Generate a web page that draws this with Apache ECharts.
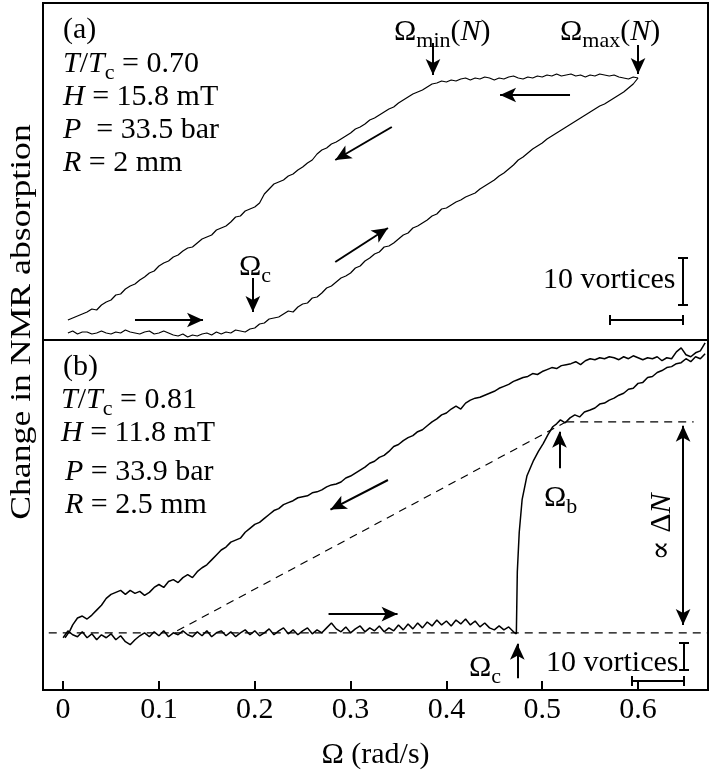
<!DOCTYPE html>
<html>
<head>
<meta charset="utf-8">
<script src="https://cdn.jsdelivr.net/npm/echarts@6.0.0/dist/echarts.min.js"></script>
<style>
  html, body { margin: 0; background: #fff; }
  #chart { width: 713px; height: 771px; }
</style>
</head>
<body>
<div id="chart"></div>
<script>
// x ticks (rad/s)
const omegaTicks = [0, 0.1, 0.2, 0.3, 0.4, 0.5, 0.6];

// panel (a): [omega, signal] ; signal in arbitrary units
const aSweepUp = [[0.005,7],[0.01,9],[0.015,6],[0.02,8],[0.025,8],[0.03,6],[0.035,7],[0.04,9],[0.045,7],[0.05,6],[0.055,8],[0.06,7],[0.065,10],[0.07,8],[0.075,7],[0.08,6],[0.085,8],[0.09,9],[0.095,6],[0.1,7],[0.105,9],[0.11,7],[0.115,5],[0.12,4],[0.125,6],[0.13,3],[0.135,5],[0.14,4],[0.145,6],[0.15,7],[0.155,5],[0.16,8],[0.165,6],[0.17,8],[0.175,7],[0.18,10],[0.185,9],[0.19,8],[0.195,11],[0.2,12],[0.205,16],[0.21,17],[0.215,21],[0.22,22],[0.225,23],[0.23,26],[0.235,29],[0.24,28],[0.245,33],[0.25,36],[0.255,37],[0.26,42],[0.265,43],[0.27,47],[0.275,52],[0.28,54],[0.285,58],[0.29,62],[0.295,64],[0.3,67],[0.305,72],[0.31,74],[0.315,79],[0.32,82],[0.325,86],[0.33,88],[0.335,93],[0.34,94],[0.345,97],[0.35,101],[0.355,105],[0.36,107],[0.365,112],[0.37,114],[0.375,117],[0.38,120],[0.385,124],[0.39,126],[0.395,131],[0.4,132],[0.405,135],[0.41,138],[0.415,140],[0.42,143],[0.425,145],[0.43,147],[0.435,151],[0.44,154],[0.445,157],[0.45,160],[0.455,164],[0.46,167],[0.465,171],[0.47,175],[0.475,180],[0.48,183],[0.485,187],[0.49,191],[0.495,194],[0.5,197],[0.505,201],[0.51,204],[0.515,207],[0.52,210],[0.525,213],[0.53,216],[0.535,219],[0.54,222],[0.545,225],[0.55,228],[0.555,231],[0.56,234],[0.565,236],[0.57,239],[0.575,242],[0.58,245],[0.585,248],[0.59,252],[0.595,256],[0.6,262]];
const aSweepDown = [[0.005,20],[0.01,22],[0.015,24],[0.02,26],[0.025,28],[0.03,31],[0.035,30],[0.04,35],[0.045,38],[0.05,40],[0.055,45],[0.06,46],[0.065,51],[0.07,54],[0.075,56],[0.08,60],[0.085,63],[0.09,67],[0.095,69],[0.1,74],[0.105,77],[0.11,79],[0.115,83],[0.12,85],[0.125,89],[0.13,92],[0.135,93],[0.14,97],[0.145,101],[0.15,103],[0.155,105],[0.16,110],[0.165,112],[0.17,114],[0.175,118],[0.18,123],[0.185,124],[0.19,129],[0.195,131],[0.2,133],[0.205,137],[0.21,146],[0.215,151],[0.22,156],[0.225,158],[0.23,160],[0.235,164],[0.24,166],[0.245,170],[0.25,173],[0.255,177],[0.26,180],[0.265,186],[0.27,190],[0.275,192],[0.28,196],[0.285,198],[0.29,201],[0.295,204],[0.3,207],[0.305,211],[0.31,213],[0.315,216],[0.32,220],[0.325,222],[0.33,225],[0.335,228],[0.34,231],[0.345,233],[0.35,237],[0.355,240],[0.36,243],[0.365,246],[0.37,248],[0.375,250],[0.38,253],[0.385,256],[0.39,257],[0.395,259],[0.4,258],[0.405,260],[0.41,259],[0.415,261],[0.42,262],[0.425,260],[0.43,262],[0.435,261],[0.44,263],[0.445,262],[0.45,260],[0.455,262],[0.46,261],[0.465,263],[0.47,264],[0.475,262],[0.48,261],[0.485,263],[0.49,262],[0.495,264],[0.5,263],[0.505,265],[0.51,264],[0.515,266],[0.52,264],[0.525,265],[0.53,266],[0.535,264],[0.54,265],[0.545,263],[0.55,265],[0.555,264],[0.56,266],[0.565,265],[0.57,264],[0.575,265],[0.58,263],[0.585,262],[0.59,261],[0.595,263],[0.6,262]];

// panel (b)
const bSweepUp = [[0,53],[0.005,60],[0.01,56],[0.015,54],[0.02,59],[0.025,53],[0.03,57],[0.035,51],[0.04,56],[0.045,53],[0.05,57],[0.055,51],[0.06,55],[0.065,49],[0.07,46],[0.075,51],[0.08,55],[0.085,58],[0.09,54],[0.095,59],[0.1,55],[0.105,60],[0.11,54],[0.115,58],[0.12,56],[0.125,60],[0.13,56],[0.135,54],[0.14,59],[0.145,55],[0.15,60],[0.155,54],[0.16,58],[0.165,60],[0.17,55],[0.175,59],[0.18,54],[0.185,58],[0.19,61],[0.195,56],[0.2,60],[0.205,55],[0.21,58],[0.215,62],[0.22,56],[0.225,60],[0.23,63],[0.235,57],[0.24,61],[0.245,56],[0.25,60],[0.255,63],[0.26,57],[0.265,61],[0.27,58],[0.275,63],[0.28,68],[0.285,62],[0.29,59],[0.295,64],[0.3,58],[0.305,62],[0.31,65],[0.315,59],[0.32,63],[0.325,60],[0.33,65],[0.335,59],[0.34,63],[0.345,60],[0.35,66],[0.355,61],[0.36,67],[0.365,62],[0.37,68],[0.375,63],[0.38,69],[0.385,65],[0.39,71],[0.395,66],[0.4,70],[0.405,65],[0.41,71],[0.415,67],[0.42,72],[0.425,66],[0.43,70],[0.435,64],[0.44,68],[0.445,63],[0.45,61],[0.455,65],[0.46,61],[0.465,64],[0.47,59],[0.473,57],[0.474,120],[0.476,160],[0.479,193],[0.484,217],[0.491,233],[0.496,242],[0.501,250],[0.506,259],[0.511,267],[0.515,270],[0.519,274],[0.524,271],[0.529,276],[0.534,279],[0.539,277],[0.544,282],[0.55,284],[0.555,286],[0.56,290],[0.565,291],[0.57,294],[0.575,296],[0.58,299],[0.585,301],[0.59,305],[0.595,306],[0.6,311],[0.605,312],[0.61,317],[0.615,318],[0.62,322],[0.625,324],[0.63,327],[0.635,328],[0.64,331],[0.645,332],[0.65,336],[0.655,333],[0.66,338],[0.665,336],[0.67,341]];
const bSweepDown = [[0.002,53],[0.007,60],[0.01,66],[0.015,73],[0.02,75],[0.025,72],[0.03,76],[0.035,81],[0.04,86],[0.045,93],[0.05,97],[0.055,99],[0.06,101],[0.065,97],[0.07,101],[0.075,98],[0.08,100],[0.085,96],[0.09,99],[0.095,104],[0.1,107],[0.105,104],[0.11,110],[0.115,112],[0.12,109],[0.125,114],[0.13,117],[0.135,114],[0.14,120],[0.145,124],[0.15,127],[0.155,132],[0.16,137],[0.165,142],[0.17,145],[0.175,150],[0.18,152],[0.185,154],[0.19,160],[0.195,164],[0.2,168],[0.205,170],[0.21,174],[0.215,178],[0.22,182],[0.225,184],[0.23,188],[0.235,190],[0.24,192],[0.245,195],[0.25,196],[0.255,197],[0.26,200],[0.265,201],[0.27,203],[0.275,206],[0.28,208],[0.285,209],[0.29,211],[0.295,215],[0.3,217],[0.305,220],[0.31,223],[0.315,226],[0.32,230],[0.325,232],[0.33,236],[0.335,238],[0.34,242],[0.345,247],[0.35,249],[0.355,253],[0.36,256],[0.365,258],[0.37,262],[0.375,264],[0.38,268],[0.385,272],[0.39,275],[0.395,279],[0.4,281],[0.405,285],[0.41,288],[0.415,285],[0.42,291],[0.425,294],[0.43,296],[0.435,297],[0.44,299],[0.445,301],[0.45,303],[0.455,306],[0.46,308],[0.465,310],[0.47,313],[0.475,315],[0.48,317],[0.485,318],[0.49,321],[0.495,320],[0.5,323],[0.505,325],[0.51,327],[0.515,326],[0.52,329],[0.525,330],[0.53,331],[0.535,333],[0.54,330],[0.545,334],[0.55,336],[0.555,335],[0.56,337],[0.565,336],[0.57,338],[0.575,337],[0.58,335],[0.585,338],[0.59,336],[0.595,339],[0.6,337],[0.605,335],[0.61,337],[0.615,336],[0.62,338],[0.625,334],[0.63,337],[0.635,336],[0.64,343],[0.645,347],[0.65,340],[0.655,338],[0.66,342],[0.665,344],[0.67,352]];

// guide lines in panel (b)
const bBaseline = [[-0.015,58],[0.672,58]];
const bSlope = [[0.119,60],[0.525,272]];
const bPlateau = [[0.525,272],[0.658,272]];

const SERIF = '"Liberation Serif", "DejaVu Serif", serif';
const FS = 30;

const chart = echarts.init(document.getElementById('chart'), null, { renderer: 'canvas' });

const rich = {
  i: { fontFamily: SERIF, fontSize: FS, fontStyle: 'italic', fill: '#000', lineHeight: 40 },
  s: { fontFamily: SERIF, fontSize: 22, fill: '#000', lineHeight: 22, verticalAlign: 'bottom' }
};

function txt(x, y, text, opts) {
  opts = opts || {};
  return {
    type: 'text', x: x, y: y, rotation: opts.rotation || 0, scaleX: opts.scaleX || 1, z: 10,
    style: {
      text: text, fill: '#000', fontFamily: SERIF, fontSize: opts.fontSize || FS,
      lineHeight: 40, rich: rich,
      textAlign: opts.align || 'left', textVerticalAlign: 'middle'
    }
  };
}
function seg(x1, y1, x2, y2) {
  return { type: 'line', z: 10, shape: { x1: x1, y1: y1, x2: x2, y2: y2 }, style: { stroke: '#000', lineWidth: 2 } };
}

function arrows(list) {
  return {
    silent: true, animation: false,
    symbolSize: [11, 16],
    label: { show: false },
    lineStyle: { color: '#000', width: 2, type: 'solid' },
    emphasis: { disabled: true },
    data: list.map(a => [
      { coord: a[0], symbol: a[2] ? 'arrow' : 'none' },
      { coord: a[1], symbol: 'arrow' }
    ])
  };
}

function trace(data, xi, extra) {
  return Object.assign({
    type: 'line', data: data, xAxisIndex: xi, yAxisIndex: xi,
    showSymbol: false, symbol: 'none', silent: true, clip: true,
    lineStyle: { color: '#000', width: 1.2 }
  }, extra || {});
}
function guide(data) {
  return trace(data, 1, { lineStyle: { color: '#000', width: 1.2, type: [8, 6] } });
}

const xBase = { type: 'value', min: -0.021, max: 0.673, splitLine: { show: false } };

chart.setOption({
  animation: false,
  backgroundColor: '#fff',
  grid: [
    { left: 43, right: 5, top: 3, height: 337, show: true, borderColor: '#000', borderWidth: 2 },
    { left: 43, right: 5, top: 340, height: 355, show: true, borderColor: '#000', borderWidth: 2 }
  ],
  xAxis: [
    Object.assign({ gridIndex: 0, show: false }, xBase),
    Object.assign({ gridIndex: 1 }, xBase, {
      axisLine: { show: false },
      axisTick: { show: true, inside: true, length: 9, customValues: omegaTicks, lineStyle: { color: '#000', width: 2 } },
      axisLabel: {
        customValues: omegaTicks, color: '#000', fontFamily: SERIF, fontSize: FS, margin: 5,
        formatter: v => (v === 0 ? '0' : v.toFixed(1))
      },
      name: 'Ω (rad/s)', nameLocation: 'middle', nameGap: 50,
      nameTextStyle: { color: '#000', fontFamily: SERIF, fontSize: FS }
    })
  ],
  yAxis: [
    { type: 'value', gridIndex: 0, min: 0, max: 337, show: false },
    { type: 'value', gridIndex: 1, min: 0, max: 355, show: false }
  ],
  series: [
    trace(aSweepUp, 0, {
      markLine: arrows([
        [[0.075, 20], [0.146, 20]],
        [[0.198, 62], [0.198, 28]],
        [[0.284, 78], [0.339, 112]],
        [[0.343, 213], [0.284, 180]],
        [[0.529, 245], [0.456, 245]],
        [[0.386, 297], [0.386, 265]],
        [[0.600, 295], [0.600, 266]]
      ])
    }),
    trace(aSweepDown, 0),
    guide(bBaseline),
    guide(bSlope),
    guide(bPlateau),
    trace(bSweepUp, 1, {
      lineStyle: { color: '#000', width: 1.5 },
      markLine: arrows([
        [[0.277, 77], [0.349, 77]],
        [[0.339, 213], [0.279, 183]],
        [[0.518, 225], [0.518, 262]],
        [[0.474, 12], [0.474, 47]],
        [[0.647, 66], [0.647, 268], true]
      ])
    }),
    trace(bSweepDown, 1, { lineStyle: { color: '#000', width: 1.5 } })
  ],
  graphic: [
    // y axis title
    txt(22, 322, 'Change in NMR absorption', { rotation: Math.PI / 2, align: 'center', scaleX: 1.19 }),
    // panel (a) text
    txt(63, 30, '(a)'),
    txt(63, 64, '{i|T}/{i|T}{s|c} = 0.70'),
    txt(63, 97, '{i|H} = 15.8 mT'),
    txt(63, 130, '{i|P}  = 33.5 bar'),
    txt(63, 163, '{i|R} = 2 mm'),
    txt(394, 32, 'Ω{s|min}({i|N})'),
    txt(560, 32, 'Ω{s|max}({i|N})'),
    txt(239, 267, 'Ω{s|c}'),
    txt(543, 280, '10 vortices'),
    seg(683, 258, 683, 305), seg(678, 258, 688, 258), seg(678, 305, 688, 305),
    seg(610, 320, 683, 320), seg(610, 315, 610, 325), seg(683, 315, 683, 325),
    // panel (b) text
    txt(63, 367, '(b)'),
    txt(61, 400, '{i|T}/{i|T}{s|c} = 0.81'),
    txt(61, 433, '{i|H} = 11.8 mT'),
    txt(65, 472, '{i|P} = 33.9 bar'),
    txt(65, 505, '{i|R} = 2.5 mm'),
    txt(544, 498, 'Ω{s|b}'),
    txt(469, 668, 'Ω{s|c}'),
    txt(546, 663, '10 vortices'),
    txt(662, 527, '∝ Δ{i|N}', { rotation: Math.PI / 2, align: 'center' }),
    seg(684, 643, 684, 670), seg(679, 643, 689, 643), seg(679, 670, 689, 670),
    seg(632, 681, 684, 681), seg(632, 676, 632, 686), seg(684, 676, 684, 686)
  ]
});
</script>
</body>
</html>
